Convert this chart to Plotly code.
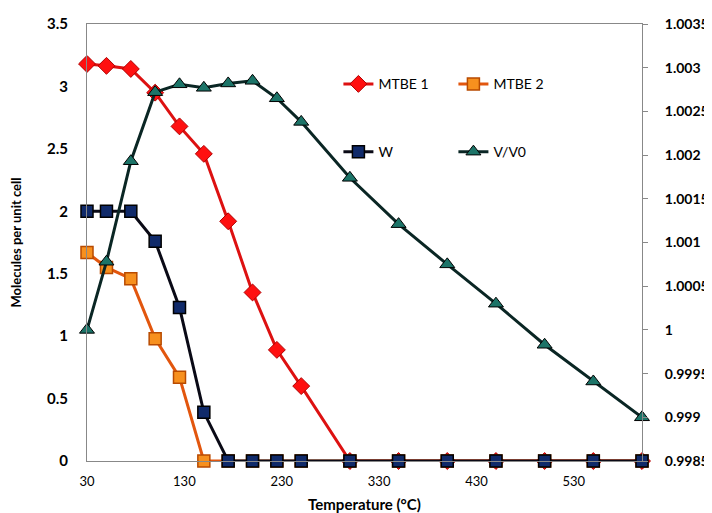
import plotly.graph_objects as go

temperature = [30, 50, 75, 100, 125, 150, 175, 200, 225, 250, 300, 350, 400, 450, 500, 550, 600]
mtbe1 = [3.18, 3.165, 3.14, 2.95, 2.68, 2.46, 1.92, 1.35, 0.89, 0.60, 0, 0, 0, 0, 0, 0, 0]
mtbe2 = [1.67, 1.55, 1.46, 0.98, 0.67, 0, 0, 0, 0, 0, 0, 0, 0, 0, 0, 0, 0]
water = [2.0, 2.0, 2.0, 1.76, 1.23, 0.39, 0, 0, 0, 0, 0, 0, 0, 0, 0, 0, 0]
vv0 = [1.0, 1.00078, 1.00193, 1.00272, 1.00281, 1.00277, 1.00282, 1.00285, 1.00265,
       1.00238, 1.00174, 1.00121, 1.00075, 1.0003, 0.99983, 0.99941, 0.9990]

x_ticks = [30, 130, 230, 330, 430, 530]
left_ticks = [0, 0.5, 1, 1.5, 2, 2.5, 3, 3.5]
left_labels = ["0", "0.5", "1", "1.5", "2", "2.5", "3", "3.5"]
right_ticks = [0.9985, 0.999, 0.9995, 1.0, 1.0005, 1.001, 1.0015, 1.002, 1.0025, 1.003, 1.0035]
right_labels = ["0.9985", "0.999", "0.9995", "1", "1.0005", "1.001", "1.0015", "1.002", "1.0025", "1.003", "1.0035"]

FONT = "Lato"

fig = go.Figure()
fig.add_trace(go.Scatter(
    x=temperature, y=mtbe1, name="MTBE 1", mode="lines+markers",
    line=dict(color="#DD1111", width=3),
    marker=dict(symbol="diamond", size=13, color="#FF1010", line=dict(color="#B00000", width=1)),
    cliponaxis=False, legend="legend"))
fig.add_trace(go.Scatter(
    x=temperature, y=mtbe2, name="MTBE 2", mode="lines+markers",
    line=dict(color="#E2560E", width=3),
    marker=dict(symbol="square", size=12, color="#F7901E", line=dict(color="#B84A00", width=1.5)),
    cliponaxis=False, legend="legend"))
fig.add_trace(go.Scatter(
    x=temperature, y=water, name="W", mode="lines+markers",
    line=dict(color="#0A0A16", width=3),
    marker=dict(symbol="square", size=12, color="#102A6A", line=dict(color="#000000", width=1.5)),
    cliponaxis=False, legend="legend2"))
fig.add_trace(go.Scatter(
    x=temperature, y=vv0, name="V/V0", mode="lines+markers", yaxis="y2",
    line=dict(color="#0A2624", width=3),
    marker=dict(symbol="triangle-up", size=13, color="#1C7468", line=dict(color="#000000", width=1)),
    cliponaxis=False, legend="legend2"))

fig.update_layout(
    width=704, height=505,
    margin=dict(l=79, r=70, t=16, b=52, autoexpand=False),
    paper_bgcolor="white", plot_bgcolor="white",
    font=dict(family=FONT, color="black", size=14),
    xaxis=dict(
        range=[30, 600], tickvals=x_ticks, ticktext=[str(v) for v in x_ticks],
        showgrid=False, zeroline=False, showline=True, linecolor="#888888", linewidth=1,
        mirror=True, ticks="", tickfont=dict(size=13, family=FONT), ticklabelstandoff=8,
        automargin=False,
        title=dict(text="<b>Temperature (°C)</b>", font=dict(size=15, family=FONT), standoff=12),
    ),
    yaxis=dict(
        range=[0, 3.5], tickvals=left_ticks, ticktext=left_labels,
        showgrid=False, zeroline=False, showline=True, linecolor="#888888", linewidth=1,
        ticks="", tickfont=dict(size=15, family=FONT, weight="bold"), ticklabelstandoff=15,
        automargin=False,
        title=dict(text="<b>Molecules per unit cell</b>", font=dict(size=13, family=FONT), standoff=22),
    ),
    yaxis2=dict(
        range=[0.9985, 1.0035], tickvals=right_ticks, ticktext=right_labels,
        overlaying="y", side="right", anchor="x",
        showgrid=False, zeroline=False, showline=True, linecolor="#888888", linewidth=1,
        ticks="outside", ticklen=5, tickcolor="#888888", automargin=False,
        tickfont=dict(size=14, family=FONT, weight="bold"), ticklabelstandoff=14,
    ),
    legend=dict(
        orientation="h", x=0.453, y=0.862, xanchor="left", yanchor="middle",
        bgcolor="rgba(0,0,0,0)", font=dict(size=14, family=FONT),
        entrywidth=70, entrywidthmode="pixels", itemclick=False,
    ),
    legend2=dict(
        orientation="h", x=0.453, y=0.707, xanchor="left", yanchor="middle",
        bgcolor="rgba(0,0,0,0)", font=dict(size=14, family=FONT),
        entrywidth=70, entrywidthmode="pixels", itemclick=False,
    ),
    showlegend=True,
)

fig.write_html("out.html")
